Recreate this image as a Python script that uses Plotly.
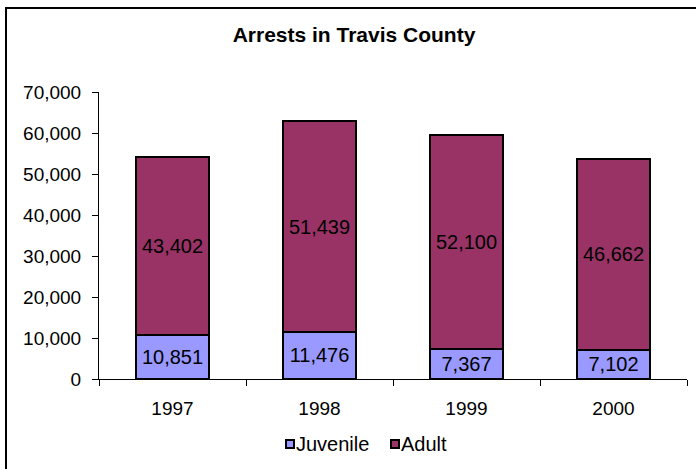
import plotly.graph_objects as go

years = ["1997", "1998", "1999", "2000"]
juvenile = [10851, 11476, 7367, 7102]
adult = [43402, 51439, 52100, 46662]
series_names = ["Juvenile", "Adult"]
series_colors = ["#9999FF", "#993366"]

FONT = "Liberation Sans, Arial, sans-serif"

W, H = 696, 469
L, R, T, B = 99, 9, 92, 90
pw, ph = W - L - R, H - T - B


def px_x(x):
    return (x - L) / pw


def px_y(y):
    return (H - B - y) / ph


fig = go.Figure()
for name, vals, col in zip(series_names, [juvenile, adult], series_colors):
    fig.add_trace(go.Bar(
        x=years, y=vals, name=name,
        marker=dict(color=col, line=dict(color="black", width=2)),
        text=[f"{v:,}" for v in vals], textposition="inside",
        insidetextanchor="middle", textangle=0,
        textfont=dict(color="black", size=20, family=FONT),
        hoverinfo="skip",
    ))

# custom legend (square swatches + labels)
legend_sq_x = [285, 390]
shapes = [dict(type="rect", xref="paper", yref="paper",
               x0=px_x(6), x1=px_x(720), y0=px_y(500), y1=px_y(8),
               line=dict(color="black", width=2), fillcolor="rgba(0,0,0,0)", layer="below")]
annotations = []
for name, col, sx in zip(series_names, series_colors, legend_sq_x):
    shapes.append(dict(type="rect", xref="paper", yref="paper",
                       x0=px_x(sx + 1), x1=px_x(sx + 9), y0=px_y(448), y1=px_y(440),
                       line=dict(color="black", width=2), fillcolor=col))
    annotations.append(dict(text=name, xref="paper", yref="paper", x=px_x(sx + 10),
                            xanchor="left", y=px_y(443.5), yanchor="middle", showarrow=False,
                            font=dict(size=20, family=FONT, color="black"), borderpad=0))

fig.update_layout(
    width=W, height=H,
    barmode="stack", bargap=0.5,
    plot_bgcolor="white", paper_bgcolor="white",
    margin=dict(l=L, r=R, t=T, b=B, pad=0),
    font=dict(family=FONT, size=19, color="black"),
    title=dict(text="<b>Arrests in Travis County</b>", x=354 / W, xanchor="center",
               y=1 - 35 / H, yanchor="middle", font=dict(size=21, family=FONT)),
    showlegend=False,
    xaxis=dict(showline=True, linecolor="black", linewidth=1, ticks="outside",
               tickson="boundaries", ticklen=6, tickcolor="black", showgrid=False,
               automargin=False, ticklabelstandoff=12),
    yaxis=dict(range=[0, 70000], dtick=10000, tickformat=",", showline=True,
               linecolor="black", linewidth=1, ticks="outside", ticklen=6,
               tickcolor="black", showgrid=False, zeroline=False, automargin=False,
               ticklabelstandoff=7),
    shapes=shapes,
    annotations=annotations,
)

fig.write_html("out.html", config={"displayModeBar": False})

# remove the default page margin so the figure sits at the window origin
with open("out.html", "r", encoding="utf-8") as f:
    html = f.read()
html = html.replace("<head>", "<head><style>html,body{margin:0;padding:0;}</style>", 1)
with open("out.html", "w", encoding="utf-8") as f:
    f.write(html)
